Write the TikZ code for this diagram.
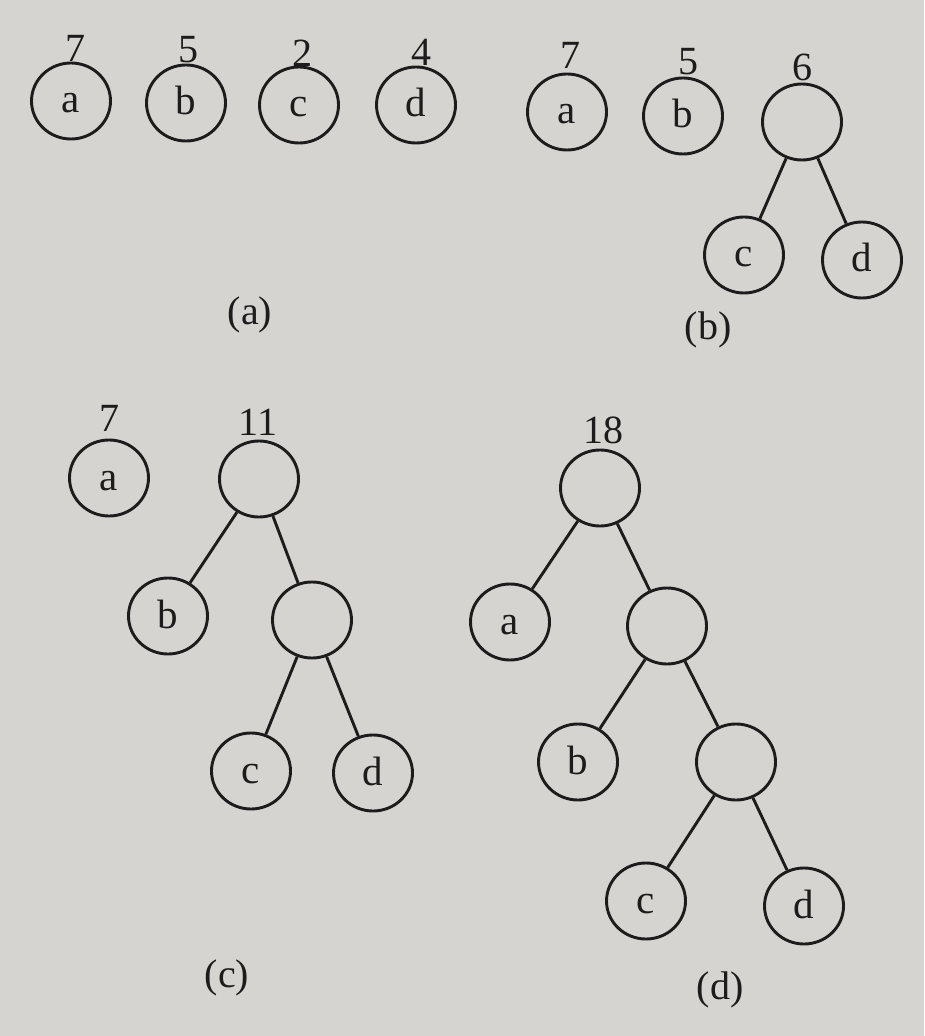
\documentclass[tikz,border=0pt]{standalone}
\usepackage{fontspec}
\setmainfont{Liberation Serif}
\usetikzlibrary{shapes.geometric}
\definecolor{paper}{RGB}{214,212,208}
\definecolor{ink}{RGB}{28,28,28}
\begin{document}
\begin{tikzpicture}[x=0.5pt,y=-0.5pt,
  nd/.style={ellipse,draw=ink,line width=1.45pt,minimum width=39.5pt,minimum height=38pt,inner sep=0pt,text height=12pt,text depth=0pt,font=\fontsize{20.5}{24}\selectfont,text=ink},
  wt/.style={inner sep=0pt,text height=13.5pt,text depth=0pt,font=\fontsize{20}{24}\selectfont,text=ink},
  capt/.style={inner sep=0pt,font=\fontsize{20}{24}\selectfont,text=ink},
  edge/.style={draw=ink,line width=1.45pt}]
\useasboundingbox (0,0) rectangle (924,1036);
\fill[paper] (0,0) rectangle (924,1036);

% (a)
\node[nd] (aa) at (71,101) {a};
\node[nd] (ab) at (186,103) {b};
\node[nd] (ac) at (299,105) {c};
\node[nd] (ad) at (416,105) {d};
\node[wt] (aw1) at (75,48) {7};
\node[wt] (aw2) at (188,49) {5};
\node[wt] (aw3) at (302,53) {2};
\node[wt] (aw4) at (421,52) {4};
\node[capt] (acap) at (250,315) {(a)};

% (b)
\node[nd] (ba) at (567,112) {a};
\node[nd] (bb) at (683,116) {b};
\node[nd] (br) at (802,122) {};
\node[nd] (bc) at (744,255) {c};
\node[nd] (bd) at (862,260) {d};
\node[wt] (bw1) at (570,55) {7};
\node[wt] (bw2) at (688,61) {5};
\node[wt] (bw3) at (802,67) {6};
\node[capt] (bcap) at (708,330) {(b)};
\draw[edge] (br) -- (bc);
\draw[edge] (br) -- (bd);

% (c)
\node[nd] (ca) at (109,478) {a};
\node[nd] (cr) at (259,479) {};
\node[nd] (cb) at (168,616) {b};
\node[nd] (ci) at (312,620) {};
\node[nd] (cc) at (251,771) {c};
\node[nd] (cd) at (373,773) {d};
\node[wt] (cw1) at (109,418) {7};
\node[wt] (cw2) at (258,422) {11};
\node[capt] (ccap) at (227,978) {(c)};
\draw[edge] (cr) -- (cb);
\draw[edge] (cr) -- (ci);
\draw[edge] (ci) -- (cc);
\draw[edge] (ci) -- (cd);

% (d)
\node[nd] (dr) at (600,488) {};
\node[nd] (da) at (510,622) {a};
\node[nd] (di) at (667,626) {};
\node[nd] (db) at (578,762) {b};
\node[nd] (dj) at (736,762) {};
\node[nd] (dc) at (646,901) {c};
\node[nd] (dd) at (804,906) {d};
\node[wt] (dw1) at (603,430) {18};
\node[capt] (dcap) at (720,990) {(d)};
\draw[edge] (dr) -- (da);
\draw[edge] (dr) -- (di);
\draw[edge] (di) -- (db);
\draw[edge] (di) -- (dj);
\draw[edge] (dj) -- (dc);
\draw[edge] (dj) -- (dd);
\end{tikzpicture}
\end{document}
